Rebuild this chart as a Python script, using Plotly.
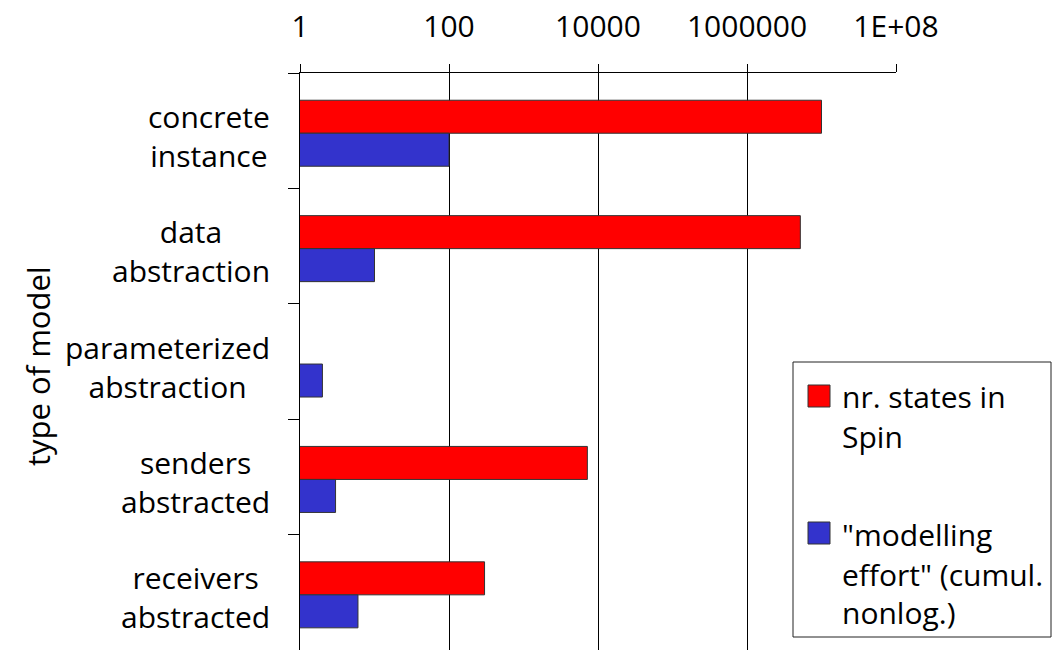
import plotly.graph_objects as go

# ---- data -------------------------------------------------------------
categories = [
    "concrete instance",
    "data abstraction",
    "parameterized abstraction",
    "senders abstracted",
    "receivers abstracted",
]
spin_states = [10_000_000, 5_200_000, None, 7_200, 300]
modelling_effort = [100, 10, 2, 3, 6]

tick_values = [1, 100, 10_000, 1_000_000, 100_000_000]
tick_labels = ["1", "100", "10000", "1000000", "1E+08"]

series_names = ["nr. states in Spin", "\"modelling effort\" (cumul. nonlog.)"]
legend_lines = [["nr. states in", "Spin"], ["\"modelling", "effort\" (cumul.", "nonlog.)"]]
series_colors = ["#FF0000", "#3333CC"]
axis_title = "type of model"

# ---- geometry helpers (page pixels -> paper coords) -------------------
W, H = 1053, 656
L, R, T, B = 300, 157, 73, 6
FONT = "Open Sans"
FS = 30


def px(x):
    return (x - L) / (W - L - R)


def py(y):
    return (H - B - y) / (H - T - B)


# bar thickness and placement inside each category band (category units)
BAR_W = 0.286
BAR_OFFSETS = [-0.264, 0.022]

fig = go.Figure()
for name, vals, col, off in zip(series_names, [spin_states, modelling_effort],
                                series_colors, BAR_OFFSETS):
    fig.add_trace(go.Bar(
        y=categories, x=vals, orientation="h", name=name,
        width=BAR_W, offset=off,
        marker=dict(color=col, line=dict(color="#333333", width=1)),
        showlegend=False,
    ))

annotations = []
# two-line, centred category labels on the left
for cat in categories:
    annotations.append(dict(
        x=0, xref="paper", y=cat, yref="y", text=cat.replace(" ", "<br>", 1),
        showarrow=False, align="center",
        xanchor="right", yanchor="middle", xshift=-28, yshift=-5,
        font=dict(family=FONT, size=FS, color="black"),
    ))

# rotated axis title
annotations.append(dict(
    x=px(38), xref="paper", y=py(366), yref="paper", text=axis_title,
    showarrow=False, textangle=-90, xanchor="center", yanchor="middle",
    font=dict(family=FONT, size=31, color="black"),
))

# legend box with swatches and wrapped labels
shapes = [dict(type="rect", xref="paper", yref="paper",
               x0=px(793), x1=px(1051), y0=py(637), y1=py(362),
               fillcolor="white", line=dict(color="#222222", width=1), layer="above")]
swatch_tops = [385, 522]
line_mids = [[397, 436], [534, 574, 612]]
for col, top, lines, mids in zip(series_colors, swatch_tops, legend_lines, line_mids):
    shapes.append(dict(type="rect", xref="paper", yref="paper",
                       x0=px(808), x1=px(830), y0=py(top + 22), y1=py(top),
                       fillcolor=col, line=dict(color="#333333", width=1), layer="above"))
    for text, mid in zip(lines, mids):
        annotations.append(dict(
            x=px(840), xref="paper", y=py(mid), yref="paper", text=text,
            showarrow=False, xanchor="left", yanchor="middle",
            font=dict(family=FONT, size=FS, color="black"),
        ))

fig.update_layout(
    width=W, height=H,
    margin=dict(l=L, r=R, t=T, b=B, pad=0),
    paper_bgcolor="white", plot_bgcolor="white",
    barmode="overlay",
    showlegend=False,
    annotations=annotations, shapes=shapes,
    font=dict(family=FONT, size=FS, color="black"),
)

fig.update_xaxes(
    type="log", range=[0, 8], side="top",
    tickmode="array", tickvals=tick_values, ticktext=tick_labels,
    ticks="outside", ticklen=8, tickcolor="black", tickwidth=1,
    showgrid=True, gridcolor="black", gridwidth=1,
    showline=True, linecolor="black", linewidth=1,
    zeroline=False, ticklabelstandoff=15,
    tickfont=dict(family=FONT, size=FS, color="black"),
)
fig.update_yaxes(
    type="category", categoryorder="array", categoryarray=categories,
    autorange="reversed", showticklabels=False,
    ticks="outside", tickson="boundaries", ticklen=11,
    tickcolor="black", tickwidth=1,
    showgrid=False, showline=True, linecolor="black", linewidth=1,
    zeroline=False,
)

fig.write_html("out.html")
